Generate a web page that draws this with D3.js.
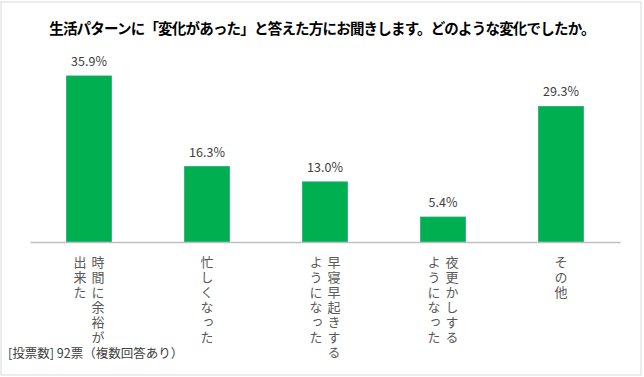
<!DOCTYPE html>
<html>
<head>
<meta charset="utf-8">
<script src="https://cdn.jsdelivr.net/npm/d3@7"></script>
<style>
  body { margin: 0; background: #fff; }
  svg { display: block; font-family: "Noto Sans CJK JP", "Noto Sans", sans-serif; }
  .cat-label { writing-mode: vertical-rl; }
</style>
</head>
<body>
<div id="chart"></div>
<script>
// data
const categories = ["時間に余裕が出来た", "忙しくなった", "早寝早起きするようになった", "夜更かしするようになった", "その他"]
const labelLines = [
    ["時間に余裕が", "出来た"],
    ["忙しくなった"],
    ["早寝早起きする", "ようになった"],
    ["夜更かしする", "ようになった"],
    ["その他"]
]
const values = [35.9, 16.3, 13.0, 5.4, 29.3]
const titleText = "生活パターンに「変化があった」と答えた方にお聞きします。どのような変化でしたか。"
const noteText = "[投票数] 92票（複数回答あり）"

const width = 644
const height = 377
const margin = { left: 30, right: 24, top: 57, baseline: 242 }

const svg = d3.select("#chart")
    .append("svg")
    .attr("width", width)
    .attr("height", height)

// frame
svg.append("rect")
    .attr("x", 1)
    .attr("y", 2)
    .attr("width", 640)
    .attr("height", 373)
    .attr("fill", "#fff")
    .attr("stroke", "#d9d9d9")
    .attr("stroke-width", 1)

const x = d3.scaleBand()
    .domain(categories)
    .range([margin.left, width - margin.right])
    .paddingInner(0.62)
    .paddingOuter(0.31)

const y = d3.scaleLinear()
    .domain([0, 40])
    .range([margin.baseline, margin.top])

// title
svg.append("text")
    .attr("x", 322)
    .attr("y", 34)
    .attr("text-anchor", "middle")
    .attr("font-size", 14.5)
    .attr("font-weight", "bold")
    .attr("letter-spacing", -0.8)
    .attr("fill", "#000")
    .text(titleText)

// bars
svg.append("g")
    .selectAll("rect")
    .data(values)
    .join("rect")
    .attr("x", (d, i) => x(categories[i]))
    .attr("y", d => y(d))
    .attr("width", x.bandwidth())
    .attr("height", d => y(0) - y(d))
    .attr("fill", "#00b050")
    .attr("stroke", "#1faa78")
    .attr("stroke-width", 0.8)

// value labels
svg.append("g")
    .selectAll("text")
    .data(values)
    .join("text")
    .attr("x", (d, i) => x(categories[i]) + x.bandwidth() / 2)
    .attr("y", d => y(d) - 10)
    .attr("text-anchor", "middle")
    .attr("font-size", 12.5)
    .attr("fill", "#404040")
    .text(d => d.toFixed(1) + "%")

// axis
const xAxis = d3.axisBottom(x).tickSize(0).tickFormat("")
svg.append("g")
    .attr("transform", `translate(0, ${margin.baseline})`)
    .call(xAxis)
    .call(g => g.select(".domain").attr("stroke", "#bfbfbf").attr("stroke-width", 1.5))

// vertical category labels (columns right to left, one tspan per character)
const colGap = 18
const charStep = 15
const labelTop = 256
const labels = svg.append("g")
    .selectAll("text")
    .data(labelLines)
    .join("text")
    .attr("class", "cat-label")
    .attr("font-size", 13)
    .attr("fill", "#595959")

labels.selectAll("tspan")
    .data((lines, i) => lines.flatMap((t, j) => Array.from(t).map((c, k) => ({
        c,
        k,
        cx: x(categories[i]) + x.bandwidth() / 2 + ((lines.length - 1) / 2 - j) * colGap
    }))))
    .join("tspan")
    .attr("x", d => d.cx)
    .attr("y", d => labelTop + d.k * charStep)
    .text(d => d.c)

// note
svg.append("text")
    .attr("x", 8)
    .attr("y", 358)
    .attr("font-size", 12.5)
    .attr("fill", "#404040")
    .text(noteText)
</script>
</body>
</html>
